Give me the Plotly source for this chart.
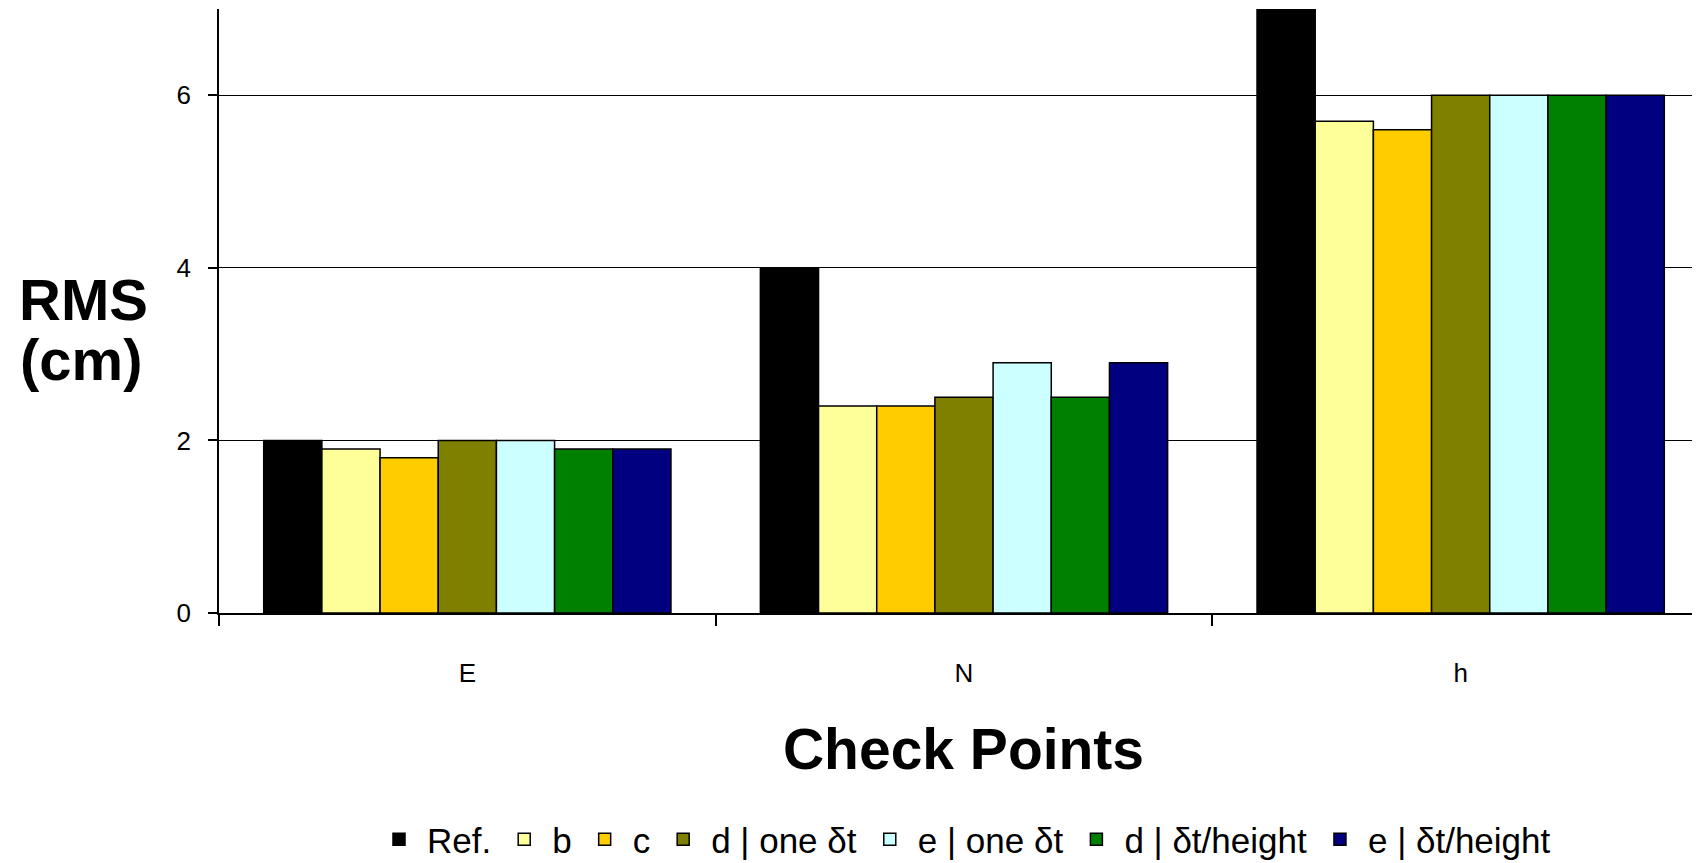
import plotly.graph_objects as go

categories = ["E", "N", "h"]
series_names = ["Ref.", "b", "c", "d | one δt", "e | one δt", "d | δt/height", "e | δt/height"]
ref_vals = [2.0, 4.0, 7.3]
b_vals = [1.9, 2.4, 5.7]
c_vals = [1.8, 2.4, 5.6]
d_one_vals = [2.0, 2.5, 6.0]
e_one_vals = [2.0, 2.9, 6.0]
d_h_vals = [1.9, 2.5, 6.0]
e_h_vals = [1.9, 2.9, 6.0]
colors = ["#000000", "#FFFF99", "#FFCC00", "#808000", "#CCFFFF", "#008000", "#000080"]
y_ticks = [0, 2, 4, 6]

all_vals = [ref_vals, b_vals, c_vals, d_one_vals, e_one_vals, d_h_vals, e_h_vals]
FONT = "Arial, Liberation Sans, sans-serif"

fig = go.Figure()
for name, vals, col in zip(series_names, all_vals, colors):
    fig.add_trace(go.Bar(
        x=categories, y=vals, name=name,
        marker=dict(color=col, line=dict(color="#000000", width=1.5)),
    ))

fig.update_layout(
    width=1700, height=863,
    margin=dict(l=211, r=0, t=1, b=258, autoexpand=False),
    paper_bgcolor="white", plot_bgcolor="white",
    barmode="group", bargap=0.18, bargroupgap=0,
    font=dict(family=FONT, color="black", size=26),
    showlegend=True,
    legend=dict(orientation="h", x=0.5, xanchor="center", y=-0.375, yanchor="middle",
                font=dict(size=35, family=FONT), itemwidth=46, tracegroupgap=0,
                traceorder="normal"),
    xaxis=dict(
        range=[-0.5, 2.498], showline=True, linecolor="black", linewidth=1.5,
        ticks="outside", tickson="boundaries", ticklen=11, tickcolor="black", tickwidth=1.5,
        ticklabelstandoff=36, tickfont=dict(size=26),
        title=dict(text="<b>Check Points</b>", font=dict(size=57), standoff=42),
        showgrid=False,
    ),
    yaxis=dict(
        range=[0, 7], tickvals=y_ticks, showline=True, linecolor="black", linewidth=1.5,
        ticks="outside", ticklen=9, tickcolor="black", tickwidth=1.5,
        ticklabelstandoff=12, tickfont=dict(size=26),
        showgrid=True, gridcolor="black", gridwidth=1.2, zeroline=False,
    ),
)

fig.add_annotation(text="<b>RMS</b>", xref="paper", yref="paper", x=-0.091, y=0.519,
                   showarrow=False, font=dict(size=58, family=FONT), xanchor="center", yanchor="middle",
                   borderpad=0)
fig.add_annotation(text="<b>(cm)</b>", xref="paper", yref="paper", x=-0.093, y=0.42,
                   showarrow=False, font=dict(size=58, family=FONT), xanchor="center", yanchor="middle",
                   borderpad=0)

fig.write_html("out.html")
